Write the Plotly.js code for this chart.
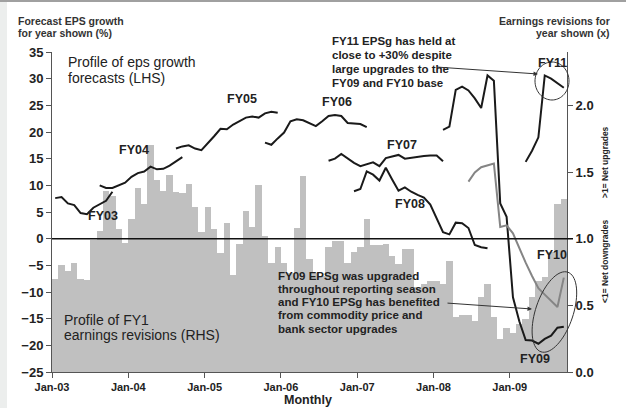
<!DOCTYPE html>
<html><head><meta charset="utf-8">
<script src="https://cdn.plot.ly/plotly-3.0.1.min.js"></script>
<style>html,body{margin:0;padding:0;background:#fff}#chart{width:626px;height:408px}</style>
</head><body><div id="chart"></div>
<script>
// ---- data ----
const tickPos = [0, 12, 24, 36, 48, 60, 72];
const tickLabels = ['Jan-03', 'Jan-04', 'Jan-05', 'Jan-06', 'Jan-07', 'Jan-08', 'Jan-09'];
// monthly FY1 earnings revisions ratio (RHS), Jan-03 .. Sep-09
const revisions = [
  0.70,0.80,0.76,0.82,0.70,0.69,0.99,1.06,1.36,1.32,
  1.07,0.97,1.15,1.38,1.26,1.70,1.44,1.36,1.48,1.35,
  1.34,1.41,1.24,1.05,1.24,1.07,0.89,1.12,0.73,0.96,
  1.21,1.09,1.40,1.02,0.82,0.94,0.82,0.74,1.08,1.47,
  0.85,0.74,0.72,0.94,0.98,0.98,0.82,0.90,0.94,1.15,
  0.95,0.95,0.96,0.87,0.81,0.92,0.92,0.64,0.66,0.68,
  0.68,0.66,0.83,0.41,0.43,0.43,0.38,0.56,0.66,0.41,
  0.25,0.33,0.29,0.36,0.40,0.56,0.68,0.71,0.90,1.26,
  1.30];
// forecast EPS growth (%), LHS; start = month index (0 = Jan-03)
const fy03Start = 0;  const fy03 = [7.6,7.8,6.6,6.3,4.8,4.6,5.8,6.4,7.1,8.8];
const fy04Start = 7;  const fy04 = [10.0,9.5,9.5,10.0,10.5,11.6,12.3,12.6,13.5,13.0,13.1,13.7,14.5,15.3];
const fy05Start = 19; const fy05 = [16.9,17.3,17.5,16.9,16.6,17.8,19.2,20.6,20.5,21.4,22.1,22.7,22.9,22.7,23.5,23.8,23.6];
const fy06Start = 33; const fy06 = [18.0,17.6,18.8,19.9,22.0,22.4,22.2,21.6,21.1,22.0,23.0,23.2,23.0,21.7,21.6,21.5,20.9];
const fy07Start = 43; const fy07 = [14.6,15.0,15.9,15.1,14.2,13.6,13.9,14.3,13.6,15.1,15.4,15.7,15.0,15.2,15.3,15.5,15.6,15.6,14.5];
const fy08Start = 47; const fy08 = [8.9,9.3,12.6,12.0,10.9,13.3,11.1,9.0,9.6,8.8,8.2,7.7,6.4,3.8,1.2,0.8,3.0,2.9,2.0,-1.2,-1.6,-1.8];
const fy09Start = 61; const fy09 = [20.4,21.0,27.9,28.5,27.8,26.3,24.5,30.6,29.6,6.6,4.1,-11,-15.5,-19,-19.1,-19.7,-18.8,-18.2,-16.7,-16.5];
const fy10Start = 65; const fy10 = [10.7,12.4,13.4,13.8,14.1,2.2,2.5,1.0,-1.8,-4.5,-7.0,-9.3,-10.5,-11.7,-12.8,-7.3];
const fy11Start = 74; const fy11 = [14.4,16.5,19.0,30.6,30.0,29.1,28.3];

// ---- geometry helpers (pixel -> paper) ----
const W = 626, H = 408, ML = 52, MR = 59, MT = 52, MB = 36;
const PW = W - ML - MR, PH = H - MT - MB;
const px = x => (x - ML) / PW;
const py = y => (H - MB - y) / PH;

const ink = '#1a1a1a';
const fontFam = '"Liberation Sans", Arial, sans-serif';

function lineTrace(start, vals, color) {
  return {
    type: 'scatter', mode: 'lines', yaxis: 'y2',
    x: vals.map((v, k) => start + k + 0.5), y: vals,
    line: {color: color, width: 2}, hoverinfo: 'skip'
  };
}

const traces = [
  {type: 'bar', x: revisions.map((v, i) => i + 0.5), y: revisions, width: 1,
   marker: {color: '#c0c0c0', line: {width: 0}}, yaxis: 'y', hoverinfo: 'skip'},
  lineTrace(fy03Start, fy03, ink),
  lineTrace(fy04Start, fy04, ink),
  lineTrace(fy05Start, fy05, ink),
  lineTrace(fy06Start, fy06, ink),
  lineTrace(fy07Start, fy07, ink),
  lineTrace(fy08Start, fy08, ink),
  lineTrace(fy09Start, fy09, ink),
  lineTrace(fy10Start, fy10, '#858585'),
  lineTrace(fy11Start, fy11, ink)
];

const ann = [];
function txt(text, x, y, o) {
  o = o || {};
  ann.push({
    text: text, xref: 'paper', yref: 'paper', x: px(x), y: py(y),
    xanchor: o.xa || 'left', yanchor: 'middle', showarrow: false,
    textangle: o.angle || 0,
    font: {family: fontFam, size: o.size || 11, color: o.color || '#222', weight: o.bold ? 'bold' : 'normal'}
  });
}
function block(lines, x, y0, step, o) {
  lines.forEach((l, i) => txt(l, x, y0 + i * step, o));
}

block(['Forecast EPS growth', 'for year shown (%)'], 16, 21, 12, {size: 10.5, bold: true, color: '#333'});
block(['Earnings revisions for', 'year shown (x)'], 612, 21, 12, {size: 10.5, bold: true, color: '#333', xa: 'right'});
block(['Profile of eps growth', 'forecasts (LHS)'], 66, 62, 16.5, {size: 14});
block(['Profile of FY1', 'earnings revisions (RHS)'], 62, 320, 14.5, {size: 14});
block(['FY11 EPSg has held at', 'close to +30% despite', 'large upgrades to the', 'FY09 and FY10 base'], 330, 41, 13.9, {size: 11.5, bold: true});
block(['FY09 EPSg was upgraded', 'throughout reporting season', 'and FY10 EPSg has benefited', 'from commodity price and', 'bank sector upgrades'], 276, 275.5, 13.3, {size: 11.5, bold: true});

const fyLabels = [['FY03', 103, 215.5], ['FY04', 134, 150], ['FY05', 242, 99], ['FY06', 337, 102],
  ['FY07', 402, 145], ['FY08', 410, 204], ['FY09', 535, 359], ['FY10', 551.5, 255], ['FY11', 552, 62.5]];
fyLabels.forEach(f => txt(f[0], f[1], f[2], {size: 12.5, bold: true, xa: 'center'}));

txt('Monthly', 308, 400, {size: 12.5, bold: true, xa: 'center'});
txt('>1= Net upgrades', 605, 162, {size: 8.5, bold: true, xa: 'center', angle: -90});
txt('<1= Net downgrades', 605, 262, {size: 8.5, bold: true, xa: 'center', angle: -90});

function arrow(tx, ty, hx, hy) {
  ann.push({text: '', xref: 'paper', yref: 'paper', x: px(hx), y: py(hy),
    ax: tx - hx, ay: ty - hy, showarrow: true, arrowhead: 2, arrowsize: 0.9,
    arrowwidth: 1, arrowcolor: '#333', standoff: 0});
}
arrow(436, 67, 538, 74);
arrow(446, 303, 532, 309);

function ellipsePath(cx, cy, a, b, angDeg) {
  const t = angDeg * Math.PI / 180;
  let d = '';
  for (let i = 0; i <= 72; i++) {
    const u = i / 72 * 2 * Math.PI;
    const ex = a * Math.cos(u), ey = b * Math.sin(u);
    const x = cx + ex * Math.cos(t) - ey * Math.sin(t);
    const y = cy + ex * Math.sin(t) + ey * Math.cos(t);
    d += (i === 0 ? 'M' : 'L') + px(x).toFixed(5) + ',' + py(y).toFixed(5);
  }
  return d + 'Z';
}

const shapes = [
  {type: 'rect', xref: 'paper', yref: 'paper', x0: px(0), x1: px(7), y0: py(408), y1: py(0),
   fillcolor: '#eceeed', line: {width: 0}, layer: 'below'},
  {type: 'rect', xref: 'paper', yref: 'paper', x0: px(0), x1: px(626), y0: py(2), y1: py(0),
   fillcolor: '#a0a0a0', line: {width: 0}, layer: 'below'},
  {type: 'line', xref: 'paper', yref: 'y2', x0: 0, x1: px(573), y0: 0, y1: 0,
   line: {color: '#111', width: 1.5}},
  {type: 'path', xref: 'paper', yref: 'paper', path: ellipsePath(552, 81, 17, 19, 0),
   line: {color: '#333', width: 1}},
  {type: 'path', xref: 'paper', yref: 'paper', path: ellipsePath(554.4, 312, 42, 18.8, -71.4),
   line: {color: '#333', width: 1}}
];

const axCol = '#555';
const layout = {
  width: W, height: H, margin: {l: ML, r: MR, t: MT, b: MB, pad: 0},
  paper_bgcolor: 'rgba(0,0,0,0)', plot_bgcolor: 'rgba(0,0,0,0)',
  showlegend: false, bargap: 0,
  font: {family: fontFam, color: '#222'},
  xaxis: {range: [0, 81], tickvals: tickPos, ticktext: tickLabels, ticks: 'outside', ticklen: 5,
    tickcolor: axCol, showline: true, linecolor: axCol, linewidth: 1, showgrid: false, zeroline: false,
    tickfont: {size: 11, weight: 'bold', color: '#222'}, fixedrange: true},
  yaxis: {range: [0, 2.4], side: 'right', tickvals: [0, 0.5, 1, 1.5, 2], tickformat: '.1f',
    ticks: 'outside', ticklen: 5, tickcolor: axCol, showline: true, linecolor: axCol, linewidth: 1,
    showgrid: false, zeroline: false, tickfont: {size: 13, weight: 'bold', color: '#222'}, fixedrange: true},
  yaxis2: {range: [-25, 35], overlaying: 'y', side: 'left', tick0: -25, dtick: 5,
    ticks: 'outside', ticklen: 5, tickcolor: axCol, showline: true, linecolor: axCol, linewidth: 1,
    showgrid: false, zeroline: false, tickfont: {size: 13, weight: 'bold', color: '#222'}, fixedrange: true},
  annotations: ann, shapes: shapes
};

Plotly.newPlot('chart', traces, layout, {displayModeBar: false, staticPlot: true});
</script>
</body></html>
